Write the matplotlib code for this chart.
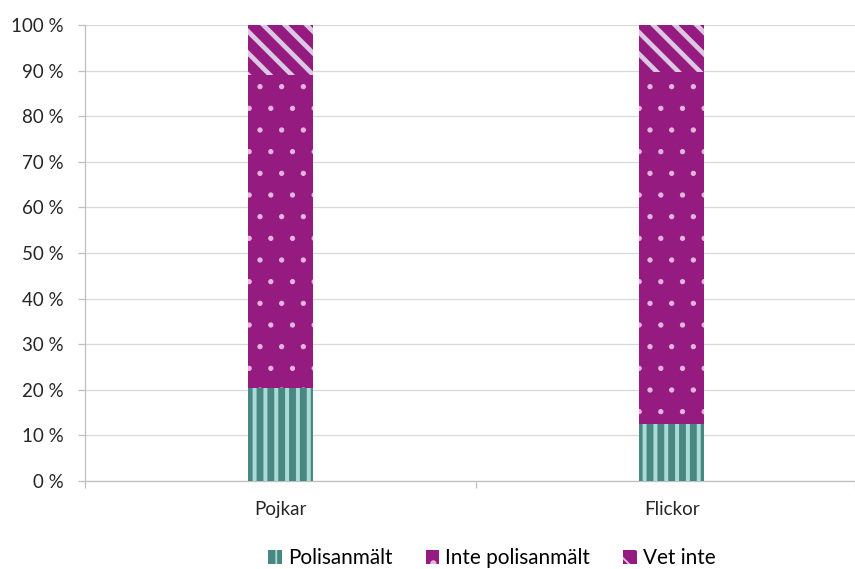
import matplotlib
matplotlib.use("Agg")
import matplotlib.pyplot as plt

plt.rcParams['font.family'] = ['Lato', 'DejaVu Sans']

categories = ['Pojkar', 'Flickor']
polisanmalt = [20.3, 12.5]
inte_polisanmalt = [68.7, 77.2]
vet_inte = [11.0, 10.3]
yticks = [0, 10, 20, 30, 40, 50, 60, 70, 80, 90, 100]

DPI = 130
fig = plt.figure(figsize=(855 / DPI, 569 / DPI), dpi=DPI)
ax = fig.add_axes([85 / 855, 88 / 569, 770 / 855, 456 / 569])

x = list(range(len(categories)))
width = 0.166
bottom2 = [a + b for a, b in zip(polisanmalt, inte_polisanmalt)]


def hatched_bar(vals, bottom, face, hatch_col, hatch, lw, label):
    with plt.rc_context({'hatch.linewidth': lw}):
        bars = ax.bar(x, vals, width, bottom=bottom, color=face,
                      edgecolor=hatch_col, hatch=hatch, linewidth=0,
                      label=label, zorder=3)
    for b in bars:
        if hasattr(b, 'set_hatch_linewidth'):
            b.set_hatch_linewidth(lw)
    return bars


hatched_bar(polisanmalt, 0, '#4b8782', '#a9dcd6', '||', 2.2, 'Polisanmält')
hatched_bar(inte_polisanmalt, polisanmalt, '#951b81', '#e3b6dc', '.', 0.5,
            'Inte polisanmält')
hatched_bar(vet_inte, bottom2, '#951b81', '#dcc8e2', '\\\\', 2.6, 'Vet inte')

ax.set_ylim(0, 100)
ax.set_xlim(-0.5, 1.469)
ax.set_yticks(yticks)
ax.set_yticklabels([f'{v} %' for v in yticks], fontsize=10.4, color='#262626')
ax.yaxis.grid(True, color='#d9d9d9', linewidth=0.7, zorder=0)
ax.set_axisbelow(True)

ax.set_xticks(x)
ax.set_xticklabels(categories, fontsize=10.4, color='#262626')
ax.tick_params(axis='x', length=0, pad=11)
ax.set_xticks([-0.5, 0.5, 1.469], minor=True)
ax.tick_params(axis='x', which='minor', length=4, width=0.7, color='#bfbfbf')
ax.tick_params(axis='y', length=4, width=0.7, color='#bfbfbf', pad=8)

for s in ['top', 'right']:
    ax.spines[s].set_visible(False)
ax.spines['left'].set_color('#bfbfbf')
ax.spines['bottom'].set_color('#bfbfbf')
ax.spines['left'].set_linewidth(0.7)
ax.spines['bottom'].set_linewidth(0.7)

fig.legend(loc='center', bbox_to_anchor=(492 / 855, 1 - 558 / 569), ncol=3,
           frameon=False, fontsize=11.5, handlelength=0.65, handleheight=0.65,
           handletextpad=0.3, columnspacing=1.6, borderpad=0)

fig.savefig('out.png', dpi=DPI)
